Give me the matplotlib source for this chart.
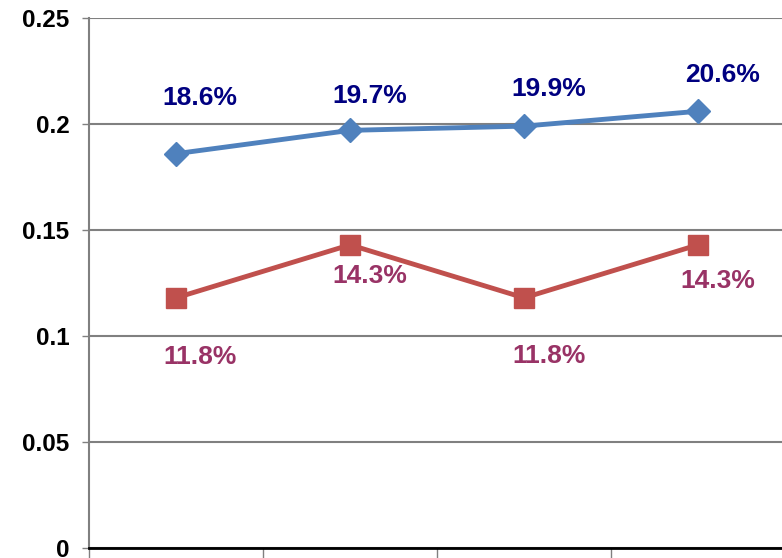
import matplotlib.pyplot as plt

series_a = [0.186, 0.197, 0.199, 0.206]
series_b = [0.118, 0.143, 0.118, 0.143]
labels_a = ['18.6%', '19.7%', '19.9%', '20.6%']
labels_b = ['11.8%', '14.3%', '11.8%', '14.3%']
y_ticks = [0, 0.05, 0.1, 0.15, 0.2, 0.25]
y_ticklabels = ['0', '0.05', '0.1', '0.15', '0.2', '0.25']

plt.rcParams['font.family'] = ['Liberation Sans', 'DejaVu Sans']

fig = plt.figure(figsize=(7.82, 5.58), dpi=100)
ax = fig.add_axes([89 / 782, 10 / 558, 696 / 782, 530 / 558])

x = [0.5, 1.5, 2.5, 3.5]
ax.plot(x, series_a, '-', color='#4F81BD', lw=3.5, marker='D', ms=12, zorder=3)
ax.plot(x, series_b, '-', color='#C0504D', lw=3.5, marker='s', ms=14.5, zorder=3)

# label offsets in points
dx_a = [17, 14, 18, 18]
dy_a = [40, 25, 27, 26]
dx_b = [17, 14, 18, 14]
dy_b = [42.5, 22.5, 42, 26]
for i in range(4):
    ax.annotate(labels_a[i], (x[i], series_a[i]), xytext=(dx_a[i], dy_a[i]),
                textcoords='offset points', ha='center', va='center',
                color='#000080', fontsize=19, fontweight='bold')
    ax.annotate(labels_b[i], (x[i], series_b[i]), xytext=(dx_b[i], -dy_b[i]),
                textcoords='offset points', ha='center', va='center',
                color='#993366', fontsize=19, fontweight='bold')

ax.set_xlim(0, 4)
ax.set_ylim(0, 0.25)
ax.set_xticks([0, 1, 2, 3, 4])
ax.set_xticklabels([''] * 5)
ax.set_yticks(y_ticks)
ax.set_yticklabels(y_ticklabels, fontsize=17.5, fontweight='bold')
ax.tick_params(axis='x', direction='out', length=8, color='#808080', width=1)
ax.tick_params(axis='y', direction='out', length=5, color='#808080', width=1, pad=9)
ax.grid(True, axis='y', color='#808080', lw=1.5)
ax.set_axisbelow(True)
for s in ['top', 'right']:
    ax.spines[s].set_visible(False)
ax.spines['left'].set_color('#808080')
ax.spines['left'].set_linewidth(1.5)
ax.spines['bottom'].set_color('black')
ax.spines['bottom'].set_linewidth(2)

fig.savefig('out.png', dpi=100)
